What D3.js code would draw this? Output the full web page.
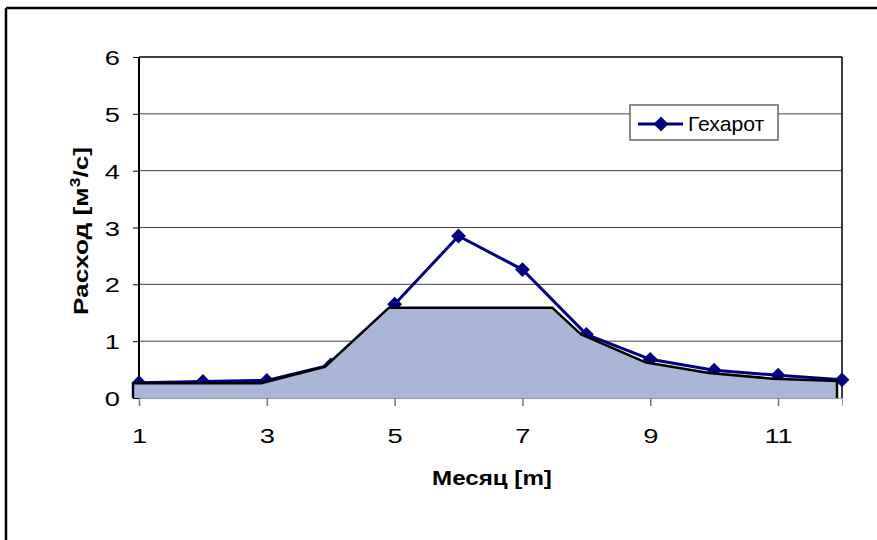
<!DOCTYPE html>
<html>
<head>
<meta charset="utf-8">
<script src="https://cdn.jsdelivr.net/npm/d3@7"></script>
<style>
  html, body { margin: 0; background: #fff; overflow: hidden; }
  svg { display: block; }
  text { font-family: "Liberation Sans", Arial, sans-serif; fill: #000; }
</style>
</head>
<body>
<svg id="chart" width="877" height="540"></svg>
<script>
// data
const months = [1, 2, 3, 4, 5, 6, 7, 8, 9, 10, 11, 12];
const flowGekharot = [0.27, 0.29, 0.31, 0.58, 1.65, 2.85, 2.26, 1.12, 0.68, 0.49, 0.40, 0.32];
const baseMonths = [1, 2, 3, 4, 5, 6, 7, 7.55, 8, 9, 10, 11, 12];
const baseFlow = [0.26, 0.26, 0.26, 0.55, 1.59, 1.59, 1.59, 1.59, 1.12, 0.63, 0.44, 0.34, 0.30];
const yTicks = [0, 1, 2, 3, 4, 5, 6];
const xTicks = [1, 3, 5, 7, 9, 11];
const seriesName = 'Гехарот';

const svg = d3.select('#chart');
const width = 877, height = 540;
const plotLeft = 139, plotTop = 57, plotRight = 842, plotBottom = 398;

// outer chart frame: only its top and left edges fall inside the picture
svg.append('line')
  .attr('x1', 6).attr('x2', width + 20)
  .attr('y1', 8).attr('y2', 8)
  .attr('stroke', '#000')
  .attr('stroke-width', 2.5);
svg.append('line')
  .attr('x1', 6).attr('x2', 6)
  .attr('y1', 8).attr('y2', height + 20)
  .attr('stroke', '#000')
  .attr('stroke-width', 2.5);

const x = d3.scaleLinear().domain([1, 12]).range([plotLeft, plotRight]);
// the area series sits on a category axis, a few pixels to the left
const xArea = d3.scaleLinear().domain([1, 12]).range([plotLeft - 6, plotRight - 5]);
const y = d3.scaleLinear().domain([0, 6]).range([plotBottom, plotTop]);

// gridlines
svg.append('g')
  .selectAll('line')
  .data(yTicks.filter((d) => d > 0))
  .enter()
  .append('line')
  .attr('x1', plotLeft).attr('x2', plotRight)
  .attr('y1', (d) => y(d)).attr('y2', (d) => y(d))
  .attr('stroke', (d) => (d === 6 ? '#000' : '#444'))
  .attr('stroke-width', (d) => (d === 6 ? 1.5 : 1));

// plot right border
svg.append('line')
  .attr('x1', plotRight).attr('x2', plotRight)
  .attr('y1', plotTop).attr('y2', plotBottom)
  .attr('stroke', '#000')
  .attr('stroke-width', 1.5);

// x axis
const gx = svg.append('g')
  .attr('transform', 'translate(0,' + plotBottom + ')')
  .call(d3.axisBottom(x).tickValues(xTicks).tickSize(8).tickFormat(d3.format('d')));
gx.select('.domain').attr('stroke', '#999').attr('stroke-width', 1);
gx.selectAll('.tick line').attr('stroke', '#777').attr('stroke-width', 1.5);
gx.selectAll('.tick text')
  .attr('font-size', '21px')
  .attr('y', 45)
  .attr('dy', null)
  .attr('transform', 'scale(1.3,1)');

// y axis
const gy = svg.append('g')
  .attr('transform', 'translate(' + plotLeft + ',0)')
  .call(d3.axisLeft(y).tickValues(yTicks).tickSize(6).tickFormat(d3.format('d')));
gy.select('.domain').attr('stroke', '#000').attr('stroke-width', 2).attr('d', 'M0,' + plotTop + 'V' + plotBottom);
gy.selectAll('.tick line').attr('stroke', '#000').attr('stroke-width', 1);
gy.selectAll('.tick text')
  .attr('font-size', '21px')
  .attr('x', null)
  .attr('dy', '0.36em')
  .attr('transform', 'translate(-19,0) scale(1.3,1)');

// Гехарот line with diamond markers
const pts = months.map((m, i) => ({ m: m, v: flowGekharot[i] }));
svg.append('path')
  .datum(pts)
  .attr('fill', 'none')
  .attr('stroke', '#000080')
  .attr('stroke-width', 3)
  .attr('d', d3.line().x((d) => x(d.m)).y((d) => y(d.v)));

const diamond = d3.symbol().type(d3.symbolSquare).size(110);
svg.append('g')
  .selectAll('path')
  .data(pts)
  .enter()
  .append('path')
  .attr('d', diamond)
  .attr('fill', '#000080')
  .attr('transform', (d) => 'translate(' + x(d.m) + ',' + y(d.v) + ') rotate(45)');

// base flow area on top
const base = baseMonths.map((m, i) => ({ m: m, v: baseFlow[i] }));
svg.append('path')
  .datum(base)
  .attr('fill', '#a9b6d5')
  .attr('d', d3.area().x((d) => xArea(d.m)).y0(y(0)).y1((d) => y(d.v)));

const outline = [{ m: 1, v: 0 }].concat(base, [{ m: 12, v: 0 }]);
svg.append('path')
  .datum(outline)
  .attr('fill', 'none')
  .attr('stroke', '#000')
  .attr('stroke-width', 2.5)
  .attr('stroke-linejoin', 'round')
  .attr('d', d3.line().x((d) => xArea(d.m)).y((d) => y(d.v)));

// axis titles
const yTitle = svg.append('text')
  .attr('transform', 'translate(88,231) rotate(-90) scale(1.25,1)')
  .attr('text-anchor', 'middle')
  .attr('font-size', '21px')
  .attr('font-weight', 'bold');
yTitle.append('tspan').text('Расход [м');
yTitle.append('tspan').attr('dy', -8).attr('font-size', '14px').text('3');
yTitle.append('tspan').attr('dy', 8).text('/с]');

svg.append('text')
  .attr('transform', 'translate(492,485) scale(1.15,1)')
  .attr('text-anchor', 'middle')
  .attr('font-size', '21px')
  .attr('font-weight', 'bold')
  .text('Месяц [m]');

// legend
const lg = svg.append('g').attr('transform', 'translate(630,105)');
lg.append('rect')
  .attr('width', 148).attr('height', 35)
  .attr('fill', '#fff')
  .attr('stroke', '#666')
  .attr('stroke-width', 1.5);
lg.append('line')
  .attr('x1', 8).attr('x2', 53)
  .attr('y1', 19).attr('y2', 19)
  .attr('stroke', '#000080')
  .attr('stroke-width', 3);
lg.append('path')
  .attr('d', diamond)
  .attr('fill', '#000080')
  .attr('transform', 'translate(31,19) rotate(45)');
lg.append('text')
  .attr('transform', 'translate(58,26) scale(1.06,1)')
  .attr('font-size', '20px')
  .text(seriesName);
</script>
</body>
</html>
